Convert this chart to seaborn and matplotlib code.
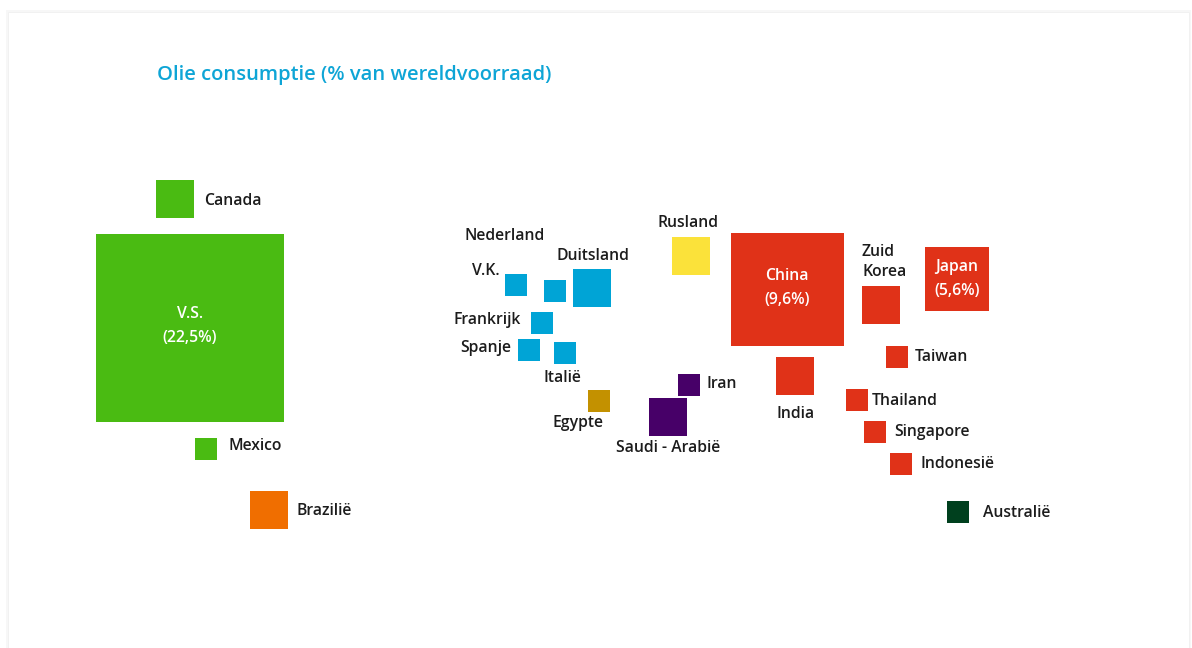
import pandas as pd
import matplotlib.pyplot as plt
import matplotlib.patches as mpatches
import seaborn as sns

# landen, geschatte consumptie (%) en plaats op de kaart (pixels)
countries = ['V.S.', 'Canada', 'Mexico', 'Brazilië', 'V.K.', 'Nederland', 'Duitsland',
             'Frankrijk', 'Spanje', 'Italië', 'Egypte', 'Rusland', 'Iran', 'Saudi - Arabië',
             'China', 'India', 'Zuid Korea', 'Japan', 'Taiwan', 'Thailand', 'Singapore',
             'Indonesië', 'Australië']
share = [22.5, 2.6, 2.2, 2.7, 2.0, 1.2, 2.9,
         2.3, 1.8, 2.0, 0.8, 3.3, 1.9, 2.7,
         9.6, 3.3, 2.6, 5.6, 1.2, 1.1, 1.0,
         1.5, 1.1]
pos_x = [190, 175, 206, 269, 516, 555, 592,
         542, 529, 565, 599, 691, 689, 668,
         787, 795, 881, 957, 897, 857, 875,
         901, 958]
pos_y = [328, 199, 449, 510, 285, 291, 288,
         323, 350, 353, 401, 256, 385, 417,
         289, 376, 305, 279, 357, 400, 432,
         464, 512]
region = ['Noord-Amerika', 'Noord-Amerika', 'Noord-Amerika', 'Zuid-Amerika', 'Europa', 'Europa', 'Europa',
          'Europa', 'Europa', 'Europa', 'Afrika', 'Rusland', 'Midden-Oosten', 'Midden-Oosten',
          'Azië', 'Azië', 'Azië', 'Azië', 'Azië', 'Azië', 'Azië',
          'Azië', 'Oceanië']

df = pd.DataFrame({'land': countries, 'share': share, 'x': pos_x, 'y': pos_y, 'regio': region})

# grootteklassen van de vierkanten
def size_class(v):
    if v > 15:
        return 'xl'
    if v > 7:
        return 'l'
    if v > 4:
        return 'm'
    if v > 2.5:
        return 's'
    return 'xs'

df['klasse'] = df['share'].apply(size_class)
side_px = {'xl': 188, 'l': 113, 'm': 64, 's': 38, 'xs': 22}
sizes = {k: (v * 0.72) ** 2 for k, v in side_px.items()}

palette = {'Noord-Amerika': '#4ABB12', 'Zuid-Amerika': '#F06E00', 'Europa': '#00A4D6',
           'Afrika': '#C39100', 'Rusland': '#FBE23A', 'Midden-Oosten': '#470068',
           'Azië': '#E03218', 'Oceanië': '#00401E'}

sns.set_theme(style='white')
plt.rcParams['font.family'] = ['Open Sans', 'DejaVu Sans']

fig = plt.figure(figsize=(11.92, 6.48), dpi=100)
ax = fig.add_axes([0, 0, 1, 1])
ax.set_xlim(0, 1192)
ax.set_ylim(648, 0)
ax.axis('off')

# kaart met lichte schaduw
ax.add_patch(mpatches.Rectangle((6, 10), 1185, 645, facecolor='#f7f7f7', edgecolor='none', zorder=0))
ax.add_patch(mpatches.Rectangle((8, 12), 1181, 640, facecolor='white', edgecolor='#f0f0f0', lw=0.6, zorder=0))

sns.scatterplot(data=df, x='x', y='y', hue='regio', palette=palette, size='klasse',
                sizes=sizes, marker='s', linewidth=0, legend=False, ax=ax, zorder=2)
ax.set_xlim(0, 1192)
ax.set_ylim(648, 0)

dark = '#1c1c1c'
fs = 11.3
labels = [
    ('Canada', 204, 201, 'left'),
    ('Mexico', 228, 446, 'left'),
    ('Brazilië', 297, 511, 'left'),
    ('Nederland', 505, 236, 'center'),
    ('V.K.', 500, 271, 'right'),
    ('Duitsland', 593, 256, 'center'),
    ('Frankrijk', 521, 320, 'right'),
    ('Spanje', 511, 348, 'right'),
    ('Italië', 562, 378, 'center'),
    ('Egypte', 578, 423, 'center'),
    ('Rusland', 688, 223, 'center'),
    ('Iran', 706, 384, 'left'),
    ('Saudi - Arabië', 668, 448, 'center'),
    ('India', 796, 414, 'center'),
    ('Zuid\nKorea', 862, 262, 'left'),
    ('Taiwan', 915, 357, 'left'),
    ('Thailand', 872, 401, 'left'),
    ('Singapore', 894, 432, 'left'),
    ('Indonesië', 921, 464, 'left'),
    ('Australië', 983, 513, 'left'),
]
for txt, tx, ty, ha in labels:
    ax.text(tx, ty, txt, ha=ha, va='center', fontsize=fs, fontweight='semibold',
            color=dark, linespacing=1.3, zorder=3)

# labels in de grote vierkanten
for txt, tx, ty in [('V.S.\n(22,5%)', 190, 326), ('China\n(9,6%)', 787, 288), ('Japan\n(5,6%)', 957, 279)]:
    ax.text(tx, ty, txt, ha='center', va='center', fontsize=fs, fontweight='semibold',
            color='white', linespacing=1.65, zorder=3)

ax.text(157, 75, 'Olie consumptie (% van wereldvoorraad)', ha='left', va='center',
        fontsize=14.5, fontweight='semibold', color='#0EA5D6', zorder=3)

fig.savefig('out.png', dpi=100)
